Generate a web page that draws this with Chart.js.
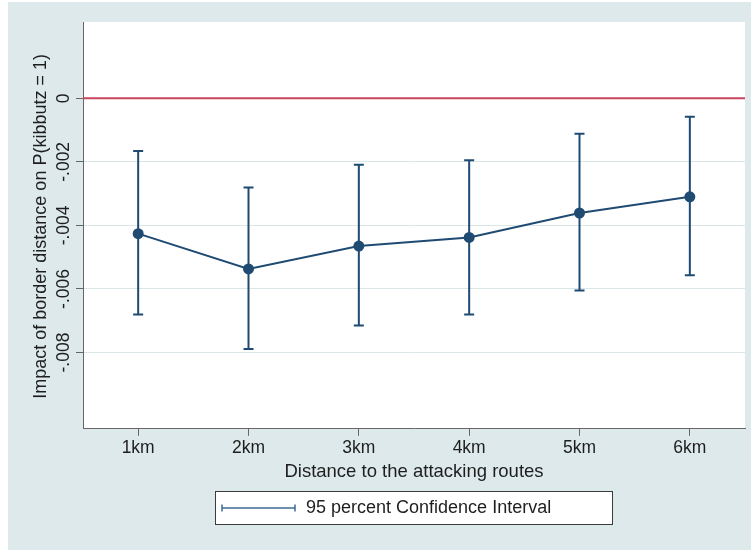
<!DOCTYPE html>
<html>
<head>
<meta charset="utf-8">
<script src="https://cdn.jsdelivr.net/npm/chart.js@4"></script>
<style>
  html, body { margin: 0; padding: 0; background: #fff; }
  #wrap { width: 751px; height: 550px; }
</style>
</head>
<body>
<div id="wrap"><canvas id="chart" width="751" height="550"></canvas></div>
<script>
// data
const categories = ["1km", "2km", "3km", "4km", "5km", "6km"];
const estimates = [-0.00426, -0.00537, -0.00465, -0.00438, -0.00361, -0.00310];
const ciLower = [-0.00680, -0.00789, -0.00715, -0.00680, -0.00605, -0.00557];
const ciUpper = [-0.00166, -0.00281, -0.00209, -0.00195, -0.00112, -0.00058];
const yTicks = [0, -0.002, -0.004, -0.006, -0.008];
const yTickLabels = ["0", "-.002", "-.004", "-.006", "-.008"];

const FONT = "'Liberation Sans', Arial, Helvetica, sans-serif";
const NAVY = "#1f4b73";
const TEXT = "#1e1e1e";

// panel + plot background
const backgroundPlugin = {
  id: "background",
  beforeDraw(chart) {
    const { ctx, chartArea: a } = chart;
    ctx.save();
    ctx.fillStyle = "#ffffff";
    ctx.fillRect(0, 0, chart.width, chart.height);
    ctx.fillStyle = "#dde9ea";
    ctx.fillRect(8, 2, chart.width - 8, chart.height - 2);
    ctx.fillStyle = "#ffffff";
    ctx.fillRect(a.left, a.top, a.right - a.left, a.bottom - a.top);
    ctx.restore();
  }
};

// zero line and confidence interval bars
const errorBarPlugin = {
  id: "errorBars",
  beforeDatasetsDraw(chart) {
    const { ctx, chartArea: a, scales } = chart;
    const x = scales.x, y = scales.y;
    ctx.save();
    // red reference line at 0
    const y0 = y.getPixelForValue(0);
    ctx.strokeStyle = "#c8435c";
    ctx.lineWidth = 2;
    ctx.beginPath();
    ctx.moveTo(a.left, y0);
    ctx.lineTo(a.right, y0);
    ctx.stroke();

    ctx.strokeStyle = NAVY;
    ctx.lineWidth = 2;
    categories.forEach((c, i) => {
      const px = x.getPixelForValue(i);
      const top = y.getPixelForValue(ciUpper[i]);
      const bot = y.getPixelForValue(ciLower[i]);
      ctx.beginPath();
      ctx.moveTo(px, top); ctx.lineTo(px, bot);
      ctx.moveTo(px - 5, top); ctx.lineTo(px + 5, top);
      ctx.moveTo(px - 5, bot); ctx.lineTo(px + 5, bot);
      ctx.stroke();
    });
    ctx.restore();
  }
};

// rotated y tick labels, y title and the legend box
const labelsPlugin = {
  id: "labels",
  afterDraw(chart) {
    const { ctx, chartArea: a, scales } = chart;
    const y = scales.y;
    ctx.save();
    ctx.fillStyle = TEXT;

    ctx.font = "17.5px " + FONT;
    ctx.textAlign = "center";
    ctx.textBaseline = "middle";
    yTicks.forEach((v, i) => {
      const py = y.getPixelForValue(v);
      ctx.save();
      ctx.translate(64, py);
      ctx.rotate(-Math.PI / 2);
      ctx.fillText(yTickLabels[i], 0, 0);
      ctx.restore();
    });

    ctx.font = "18px " + FONT;
    ctx.save();
    ctx.translate(41, (a.top + a.bottom) / 2 + 1);
    ctx.rotate(-Math.PI / 2);
    ctx.fillText("Impact of border distance on P(kibbutz = 1)", 0, 0);
    ctx.restore();

    // legend
    ctx.fillStyle = "#ffffff";
    ctx.fillRect(215, 491, 398, 34);
    ctx.strokeStyle = "#3c3c3c";
    ctx.lineWidth = 1;
    ctx.strokeRect(215.5, 491.5, 397, 33);
    ctx.strokeStyle = "#3f6b94";
    ctx.lineWidth = 1.5;
    ctx.beginPath();
    ctx.moveTo(222, 508); ctx.lineTo(295, 508);
    ctx.moveTo(222, 504.5); ctx.lineTo(222, 511.5);
    ctx.moveTo(295, 504.5); ctx.lineTo(295, 511.5);
    ctx.stroke();
    ctx.fillStyle = TEXT;
    ctx.font = "18px " + FONT;
    ctx.textAlign = "left";
    ctx.fillText("95 percent Confidence Interval", 306, 508);
    ctx.restore();
  }
};

new Chart(document.getElementById("chart"), {
  type: "line",
  data: {
    labels: categories,
    datasets: [{
      data: estimates,
      borderColor: NAVY,
      backgroundColor: NAVY,
      borderWidth: 2,
      pointRadius: 5.5,
      pointBorderWidth: 0,
      pointBackgroundColor: NAVY,
      tension: 0
    }]
  },
  plugins: [backgroundPlugin, errorBarPlugin, labelsPlugin],
  options: {
    responsive: false,
    animation: false,
    layout: { padding: { left: 76, top: 22, right: 6, bottom: 67 } },
    plugins: { legend: { display: false }, tooltip: { enabled: false } },
    scales: {
      x: {
        type: "category",
        offset: true,
        grid: { drawOnChartArea: false, drawTicks: true, tickLength: 7, tickColor: "#666", offset: false },
        border: { color: "#666", width: 1 },
        ticks: { color: TEXT, font: { family: FONT, size: 17.5 }, padding: 2, maxRotation: 0 },
        title: {
          display: true,
          text: "Distance to the attacking routes",
          color: TEXT,
          font: { family: FONT, size: 18.5 },
          padding: { top: 0, bottom: 0 }
        }
      },
      y: {
        min: -0.0104,
        max: 0.0024,
        afterBuildTicks(scale) { scale.ticks = yTicks.map(v => ({ value: v })); },
        grid: { color: "#d9e7e9", lineWidth: 1, drawTicks: true, tickLength: 7, tickColor: "#666" },
        border: { color: "#666", width: 1 },
        ticks: { display: false }
      }
    }
  }
});
</script>
</body>
</html>
